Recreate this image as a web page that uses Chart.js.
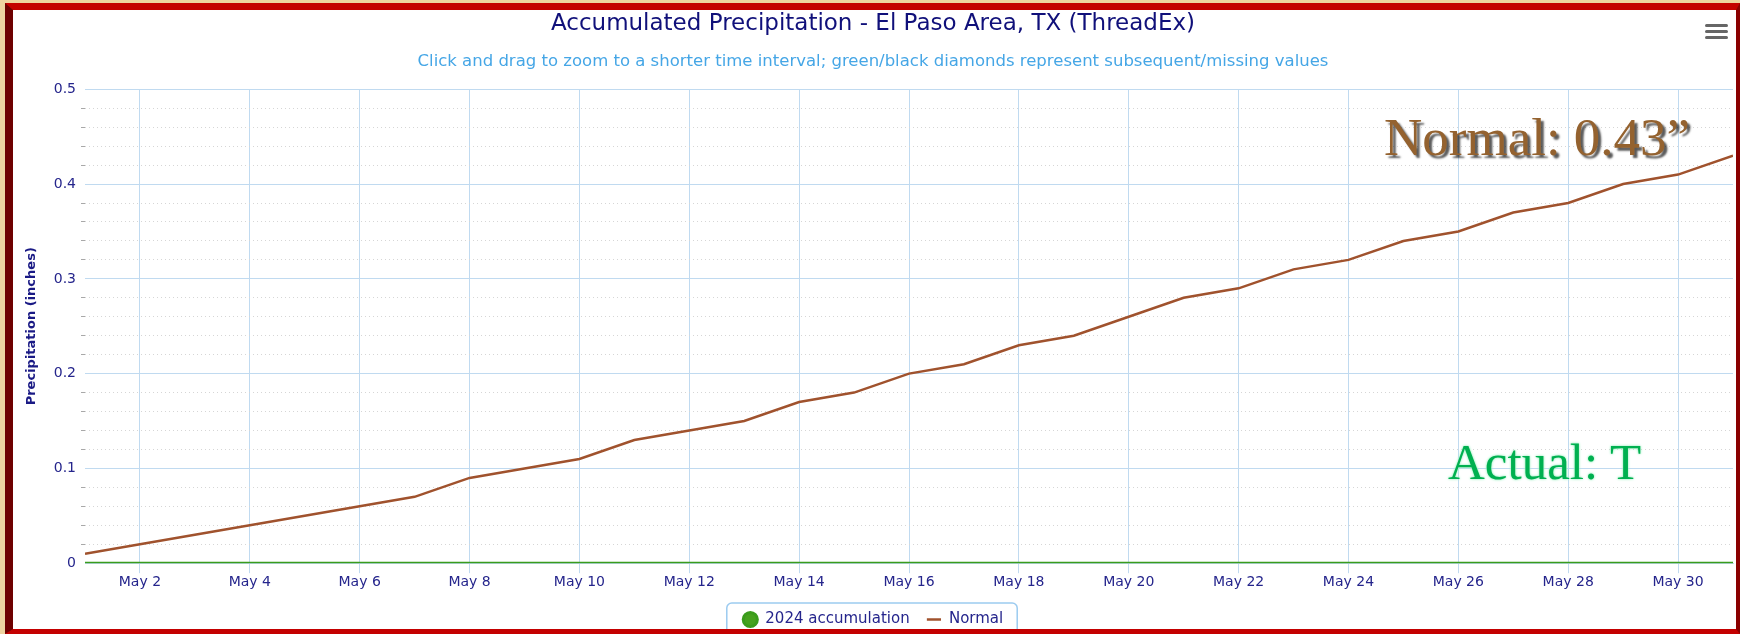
<!DOCTYPE html>
<html>
<head>
<meta charset="utf-8">
<script src="https://cdn.jsdelivr.net/npm/chart.js@4"></script>
<style>
  body { margin: 0; width: 1740px; height: 634px; background: #eed3a0; overflow: hidden; }
  #frame {
    position: absolute; left: 5px; top: 3px; width: 1723px; height: 619px;
    border-style: solid; border-width: 7px 4px 5px 8px;
    border-color: #c40000 #8a0000 #c40000 #6e0000;
    background: #fff; overflow: hidden;
  }
  #wrap { position: absolute; left: 0; top: 0; width: 1723px; height: 627px; }
  .menu { position: absolute; left: 1692px; width: 23px; height: 3px; border-radius: 2px; background: #666; }
  .note { position: absolute; font-family: 'Liberation Serif', serif; line-height: 1; white-space: nowrap; }
  #normalNote { left: 1371px; top: 101px; font-size: 53px; color: #94622f; text-shadow: 3px 3px 2px rgba(0,0,0,0.65); }
  #actualNote { left: 1435px; top: 427px; font-size: 51px; color: #00b050; text-shadow: 0 0 3px #a8f0c8, 0 0 2px #a8f0c8; }
</style>
</head>
<body>
<div id="frame">
  <div id="wrap"><canvas id="chart"></canvas></div>
  <div class="menu" style="top:14px"></div>
  <div class="menu" style="top:20px"></div>
  <div class="menu" style="top:26px"></div>
  <div class="note" id="normalNote">Normal: 0.43”</div>
  <div class="note" id="actualNote">Actual: T</div>
</div>
<script>
const monthName = 'May';
const days = [1, 2, 3, 4, 5, 6, 7, 8, 9, 10, 11, 12, 13, 14, 15, 16, 17, 18, 19, 20, 21, 22, 23, 24, 25, 26, 27, 28, 29, 30, 31];
const normalPrecip = [0.01, 0.02, 0.03, 0.04, 0.05, 0.06, 0.07, 0.09, 0.10, 0.11, 0.13, 0.14, 0.15, 0.17, 0.18, 0.20,
                      0.21, 0.23, 0.24, 0.26, 0.28, 0.29, 0.31, 0.32, 0.34, 0.35, 0.37, 0.38, 0.40, 0.41, 0.43];
const accum2024 = [0, 0, 0, 0, 0, 0, 0, 0, 0, 0, 0, 0, 0, 0, 0, 0, 0, 0, 0, 0, 0, 0, 0, 0, 0, 0, 0, 0, 0, 0, 0];
const xTickDays = [2, 4, 6, 8, 10, 12, 14, 16, 18, 20, 22, 24, 26, 28, 30];
const yMin = 0, yMax = 0.5, yMajorStep = 0.1, yMinorStep = 0.02;

const NAVY = '#25258c';
const GRID_BLUE = '#c0daf0';
const GRID_MINOR = '#d6d6d6';

Chart.defaults.font.family = "'DejaVu Sans', sans-serif";

const isMajor = v => Math.abs(v / yMajorStep - Math.round(v / yMajorStep)) < 1e-6;

// rounded box round the legend items, like the original
const legendBox = {
    id: 'legendBox',
    afterDraw(chart) {
        const boxes = chart.legend.legendHitBoxes;
        if (!boxes || !boxes.length) return;
        const first = boxes[0], last = boxes[boxes.length - 1];
        const left = first.left - 16;
        const right = last.left + last.width + 14;
        const top = first.top - 9;
        const ctx = chart.ctx;
        ctx.save();
        ctx.strokeStyle = '#9ccbf0';
        ctx.lineWidth = 1.5;
        ctx.beginPath();
        ctx.roundRect(left, top, right - left, 40, 5);
        ctx.stroke();
        ctx.restore();
    }
};

new Chart(document.getElementById('chart'), {
    type: 'line',
    data: {
        datasets: [{
            label: '2024 accumulation',
            data: days.map((d, i) => ({ x: d, y: accum2024[i] })),
            borderColor: '#3a9c1c',
            backgroundColor: '#46a21e',
            borderWidth: 3,
            pointRadius: 0,
            pointStyle: 'circle'
        }, {
            label: 'Normal',
            data: days.map((d, i) => ({ x: d, y: normalPrecip[i] })),
            borderColor: '#a0522d',
            backgroundColor: '#a0522d',
            borderWidth: 2.5,
            pointRadius: 0,
            pointStyle: 'line'
        }]
    },
    options: {
        responsive: true,
        maintainAspectRatio: false,
        animation: false,
        layout: { padding: { left: 0, right: 3, top: 0, bottom: 0 } },
        plugins: {
            title: {
                display: true,
                text: 'Accumulated Precipitation - El Paso Area, TX (ThreadEx)',
                color: '#10107a',
                font: { size: 23, weight: 'normal' },
                padding: { top: 0, bottom: 14.4 }
            },
            subtitle: {
                display: true,
                text: 'Click and drag to zoom to a shorter time interval; green/black diamonds represent subsequent/missing values',
                color: '#45a6e6',
                font: { size: 16.5 },
                padding: { top: 0, bottom: 17.5 }
            },
            legend: {
                position: 'bottom',
                labels: {
                    usePointStyle: true,
                    boxHeight: 10,
                    padding: 16.8,
                    color: NAVY,
                    font: { size: 15 }
                }
            },
            tooltip: { enabled: false }
        },
        scales: {
            x: {
                type: 'linear',
                min: days[0],
                max: days[days.length - 1],
                afterBuildTicks: axis => { axis.ticks = xTickDays.map(v => ({ value: v })); },
                afterFit: axis => { axis.height = 32; },
                ticks: {
                    color: NAVY,
                    font: { size: 14 },
                    padding: 1,
                    autoSkip: false,
                    maxRotation: 0,
                    callback: v => monthName + ' ' + v
                },
                grid: { color: GRID_BLUE, tickColor: GRID_BLUE, tickLength: 10, lineWidth: 1 },
                border: { display: true, color: GRID_BLUE }
            },
            y: {
                min: yMin,
                max: yMax,
                afterFit: axis => { axis.width = 72; },
                ticks: {
                    stepSize: yMinorStep,
                    autoSkip: false,
                    color: NAVY,
                    font: { size: 14 },
                    padding: 5,
                    callback: v => isMajor(v) ? String(Math.round(v / yMajorStep) * yMajorStep).replace(/(\.\d)\d+$/, '$1') : ''
                },
                grid: {
                    color: c => isMajor(c.tick.value) ? GRID_BLUE : GRID_MINOR,
                    tickColor: c => isMajor(c.tick.value) ? 'transparent' : '#a8a8a8',
                    tickLength: 4,
                    lineWidth: 1
                },
                border: { display: false, dash: c => (c.tick && !isMajor(c.tick.value)) ? [1, 3] : [] },
                title: {
                    display: true,
                    text: 'Precipitation (inches)',
                    color: '#1a1a85',
                    font: { size: 13, weight: 'bold' },
                    padding: { top: 11 }
                }
            }
        }
    },
    plugins: [legendBox]
});
</script>
</body>
</html>
